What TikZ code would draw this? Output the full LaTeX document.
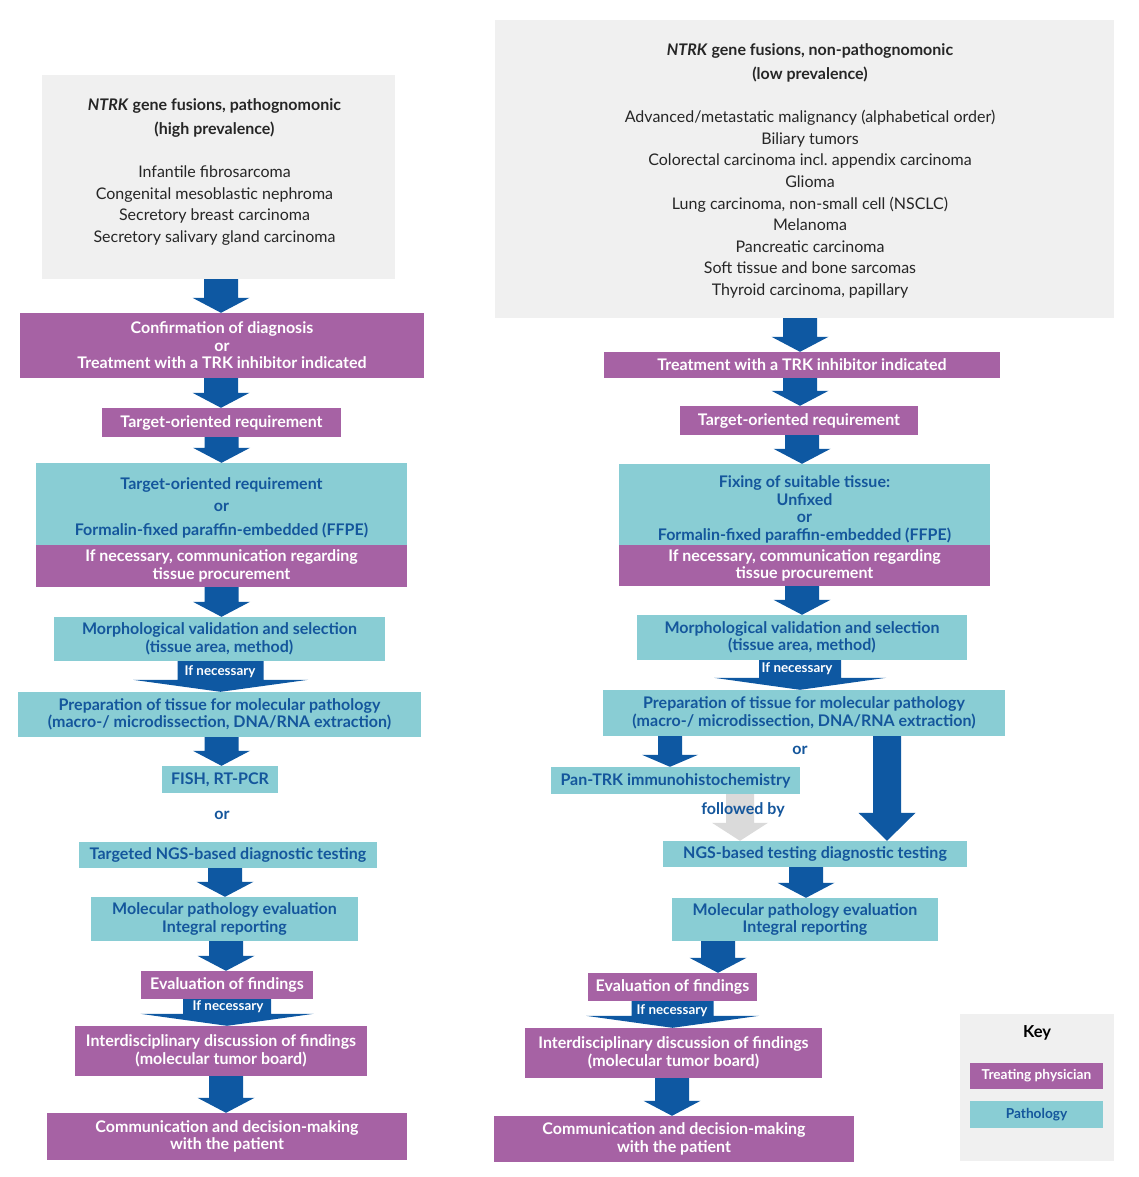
\documentclass[tikz,border=0pt]{standalone}
\usepackage{fontspec}
\setmainfont{Lato}
\usetikzlibrary{calc}
\definecolor{purp}{RGB}{166,98,164}
\definecolor{cyanb}{RGB}{137,205,212}
\definecolor{txtblue}{RGB}{20,86,156}
\definecolor{arrowblue}{RGB}{14,88,162}
\definecolor{greybg}{RGB}{240,240,240}
\definecolor{lightarr}{RGB}{218,218,218}
\newcommand{\fatarr}[6]{%
  \fill[#1] let \p1=(#2), \p2=(#3) in
   ({\x1-#4pt},\y1) -- ({\x1+#4pt},\y1) -- ({\x1+#4pt},{\y2+#6pt}) -- ({\x1+#5pt},{\y2+#6pt})
   -- (\x1,\y2) -- ({\x1-#5pt},{\y2+#6pt}) -- ({\x1-#4pt},{\y2+#6pt}) -- cycle;}
\tikzset{
  box/.style={rectangle, inner sep=0pt, align=center,
    font=\bfseries\fontsize{16}{17.5}\selectfont},
  pbox/.style={box, fill=purp, text=white},
  cbox/.style={box, fill=cyanb, text=txtblue},
  gbox/.style={rectangle, inner sep=0pt, fill=greybg},
  gtext/.style={align=center, inner sep=0pt, font=\fontsize{16}{21.6}\selectfont, text=black!85},
  btext/.style={inner sep=0pt, font=\bfseries\fontsize{16}{17.5}\selectfont, text=txtblue},
  inlab/.style={inner sep=0pt, font=\bfseries\fontsize{13.4}{14}\selectfont, text=white},
  keylab/.style={font=\bfseries\fontsize{13.7}{14}\selectfont},
}
\begin{document}
\begin{tikzpicture}[x=1pt,y=-1pt]
\useasboundingbox[fill=white] (0,0) rectangle (1139,1177);

% ---------------- left column ----------------
\node[gbox, minimum width=353, minimum height=204] (g1) at (218.5,177) {};
\node[gtext] (g1t) at (214.5,172) {{\bfseries\textit{NTRK} gene fusions, pathognomonic}\\[2.4pt]
  {\bfseries (high prevalence)}\\[21.4pt]
  Infantile fibrosarcoma\\Congenital mesoblastic nephroma\\Secretory breast carcinoma\\Secretory salivary gland carcinoma};

\node[pbox, minimum width=404, minimum height=65] (p1) at (222,345.5)
  {Confirmation of diagnosis\\or\\Treatment with a TRK inhibitor indicated};
\node[pbox, minimum width=239, minimum height=29] (p2) at (221.5,422.5) {Target-oriented requirement};
\node[cbox, minimum width=371, minimum height=90] (c1) at (221.5,508)
  {Target-oriented requirement\\[4.5pt]or\\[6pt]Formalin-fixed paraffin-embedded (FFPE)};
\node[pbox, minimum width=371, minimum height=42] (p3) at (221.5,566)
  {If necessary, communication regarding\\tissue procurement};
\node[cbox, minimum width=331, minimum height=44] (c2) at (219.5,639)
  {Morphological validation and selection\\(tissue area, method)};
\node[cbox, minimum width=403, minimum height=45] (c3) at (219.5,714.5)
  {Preparation of tissue for molecular pathology\\(macro-/ microdissection, DNA/RNA extraction)};
\node[cbox, minimum width=116, minimum height=27] (c4) at (220,779.5) {FISH, RT-PCR};
\node[btext] (or1) at (222,815) {or};
\node[cbox, minimum width=298, minimum height=26] (c5) at (228,855) {Targeted NGS-based diagnostic testing};
\node[cbox, minimum width=267, minimum height=44] (c6) at (224.5,919)
  {Molecular pathology evaluation\\Integral reporting};
\node[pbox, minimum width=172, minimum height=28] (p4) at (227,985) {Evaluation of findings};
\node[pbox, minimum width=292, minimum height=50] (p5) at (221,1051)
  {Interdisciplinary discussion of findings\\(molecular tumor board)};
\node[pbox, minimum width=360, minimum height=47] (p6) at (227,1136.5)
  {Communication and decision-making\\with the patient};

\fatarr{arrowblue}{[xshift=2.5pt]g1.south}{p1.north}{17}{28.5}{15}
\fatarr{arrowblue}{[xshift=-1pt]p1.south}{p2.north}{17}{28.5}{15}
\fatarr{arrowblue}{p2.south}{c1.north}{17}{28.5}{15}
\fatarr{arrowblue}{p3.south}{c2.north}{17}{28.5}{15}
\fatarr{arrowblue}{[xshift=1pt]c2.south}{c3.north}{43}{87.5}{12}
\node[inlab] (in1) at (220,671.5) {If necessary};
\fatarr{arrowblue}{[xshift=2pt]c3.south}{c4.north}{17}{28.5}{15}
\fatarr{arrowblue}{[xshift=-3pt]c5.south}{c6.north}{17}{28.5}{15}
\fatarr{arrowblue}{[xshift=1.5pt]c6.south}{p4.north}{17}{28.5}{15}
\fatarr{arrowblue}{p4.south}{p5.north}{44}{86.5}{12}
\node[inlab] (in2) at (228,1007) {If necessary};
\fatarr{arrowblue}{[xshift=5pt]p5.south}{p6.north}{17}{28.5}{15}

% ---------------- right column ----------------
\node[gbox, minimum width=619, minimum height=298] (g2) at (804.5,169) {};
\node[gtext] (g2t) at (810,171) {{\bfseries\textit{NTRK} gene fusions, non-pathognomonic}\\[2.4pt]
  {\bfseries (low prevalence)}\\[21.4pt]
  Advanced/metastatic malignancy (alphabetical order)\\Biliary tumors\\
  Colorectal carcinoma incl.\ appendix carcinoma\\Glioma\\Lung carcinoma, non-small cell (NSCLC)\\
  Melanoma\\Pancreatic carcinoma\\Soft tissue and bone sarcomas\\Thyroid carcinoma, papillary};

\node[pbox, minimum width=396, minimum height=26] (p7) at (802,365) {Treatment with a TRK inhibitor indicated};
\node[pbox, minimum width=238, minimum height=29] (p8) at (799,420.5) {Target-oriented requirement};
\node[cbox, minimum width=371, minimum height=91] (c7) at (804.5,509.5)
  {Fixing of suitable tissue:\\Unfixed\\or\\Formalin-fixed paraffin-embedded (FFPE)};
\node[pbox, minimum width=371, minimum height=41] (p9) at (804.5,565.5)
  {If necessary, communication regarding\\tissue procurement};
\node[cbox, minimum width=330, minimum height=45] (c8) at (802,637.5)
  {Morphological validation and selection\\(tissue area, method)};
\node[cbox, minimum width=402, minimum height=46] (c9) at (804,713)
  {Preparation of tissue for molecular pathology\\(macro-/ microdissection, DNA/RNA extraction)};
\node[cbox, minimum width=249, minimum height=27] (c10) at (675.5,780.5) {Pan-TRK immunohistochemistry};
\node[btext] (or2) at (800,750) {or};
\node[cbox, minimum width=304, minimum height=26] (c11) at (815,854) {NGS-based testing diagnostic testing};
\node[cbox, minimum width=266, minimum height=43] (c12) at (805,919.5)
  {Molecular pathology evaluation\\Integral reporting};
\node[pbox, minimum width=169, minimum height=28] (p10) at (672.5,987) {Evaluation of findings};
\node[pbox, minimum width=297, minimum height=50] (p11) at (673.5,1053)
  {Interdisciplinary discussion of findings\\(molecular tumor board)};
\node[pbox, minimum width=360, minimum height=46] (p12) at (674,1139)
  {Communication and decision-making\\with the patient};

\fatarr{arrowblue}{[xshift=-4.5pt]g2.south}{p7.north}{17}{28.5}{15}
\fatarr{arrowblue}{[xshift=-2pt]p7.south}{p8.north}{17}{28.5}{15}
\fatarr{arrowblue}{[xshift=3pt]p8.south}{c7.north}{17}{28.5}{15}
\fatarr{arrowblue}{[xshift=-2.5pt]p9.south}{c8.north}{17}{28.5}{15}
\fatarr{arrowblue}{[xshift=-2pt]c8.south}{c9.north}{41}{86}{12}
\node[inlab] (in3) at (797,669) {If necessary};
\fatarr{arrowblue}{[xshift=-134pt]c9.south}{c10.north}{12}{28}{12}
\fatarr{arrowblue}{[xshift=83pt]c9.south}{c11.north}{14}{28.5}{28}
\fatarr{lightarr}{[xshift=64.5pt]c10.south}{c11.north}{14}{28}{18}
\node[btext] (fb) at (743,810) {followed by};
\fatarr{arrowblue}{[xshift=-9pt]c11.south}{c12.north}{17}{28.5}{15}
\fatarr{arrowblue}{[xshift=-87pt]c12.south}{p10.north}{17}{28.5}{15}
\fatarr{arrowblue}{p10.south}{p11.north}{41}{86.5}{12}
\node[inlab] (in4) at (672,1010.5) {If necessary};
\fatarr{arrowblue}{[xshift=-1.5pt]p11.south}{p12.north}{17}{28.5}{15}

% ---------------- key ----------------
\node[gbox, minimum width=154, minimum height=147] (key) at (1037,1087.5) {};
\node[inner sep=0pt, font=\bfseries\fontsize{16.5}{18}\selectfont] (keyt) at (1037,1033) {Key};
\node[pbox, minimum width=133, minimum height=26, keylab] (k1) at (1036.5,1076) {Treating physician};
\node[cbox, minimum width=133, minimum height=27, keylab] (k2) at (1036.5,1114.5) {Pathology};
\end{tikzpicture}
\end{document}
